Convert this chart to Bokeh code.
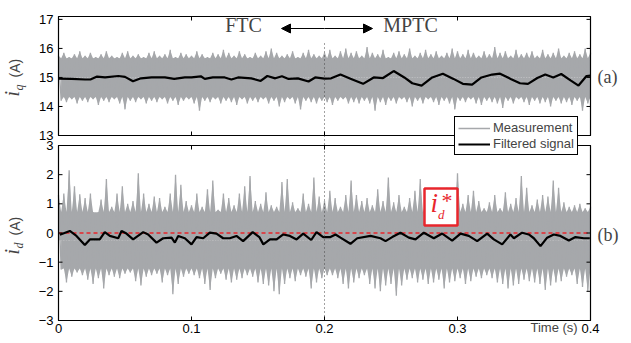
import numpy as np
from bokeh.plotting import figure
from bokeh.models import (Range1d, BoxAnnotation, Label, Arrow, NormalHead,
                          Legend, LegendItem)
from bokeh.core.properties import value
from bokeh.embed import file_html
from bokeh.resources import INLINE

# ---------------- data ----------------
T_MIN, T_MAX = 0.0, 0.4
T_SWITCH = 0.2
IQ_MIN, IQ_MAX = 13.0, 17.1
ID_MIN, ID_MAX = -3.0, 3.0
ID_REF = 0.0

x_ticks = [0.0, 0.1, 0.2, 0.3, 0.4]
x_tick_labels = ["0", "0.1", "0.2", "0.3", "0.4"]
iq_ticks = [13.0, 14.0, 15.0, 16.0, 17.0]
iq_tick_labels = ["13", "14", "15", "16", "17"]
id_ticks = [-3.0, -2.0, -1.0, 0.0, 1.0, 2.0, 3.0]
id_tick_labels = ["\u22123", "\u22122", "\u22121", "0", "1", "2", "3"]

SAMPLE_DT = 0.004  # spacing of the read-off peak samples

iq_meas_hi = [
    15.75, 15.85, 15.70, 15.80, 15.90, 15.75, 15.85, 15.70, 15.80, 15.90,
    15.75, 15.70, 15.85, 15.90, 15.75, 15.80, 15.70, 15.85, 15.90, 15.75,
    15.80, 15.95, 15.70, 15.85, 15.80, 15.75, 15.90, 15.80, 15.70, 15.85,
    15.80, 15.95, 15.85, 15.75, 15.90, 15.80, 15.70, 15.85, 15.75, 15.90,
    16.00, 15.85, 15.75, 15.80, 15.90, 15.70, 15.85, 15.95, 15.80, 15.75,
    15.85, 15.95, 15.75, 15.90, 16.00, 15.85, 15.90, 15.75, 16.05, 15.85,
    15.80, 15.95, 15.70, 15.85, 15.90, 15.80, 16.00, 15.75, 15.85, 15.95,
    15.80, 15.90, 15.75, 15.85, 16.00, 15.90, 15.80, 15.95, 15.85, 15.75,
    15.90, 15.80, 16.05, 15.85, 15.90, 15.75, 15.95, 15.80, 15.85, 15.90,
    15.75, 15.95, 15.80, 15.85, 16.00, 15.75, 15.85, 15.90, 15.80, 16.00,
    15.85]
iq_meas_lo = [
    14.20, 14.15, 14.25, 14.10, 14.20, 14.15, 14.25, 14.05, 14.20, 14.15,
    14.25, 14.10, 13.90, 14.20, 14.15, 14.25, 14.10, 14.20, 14.15, 14.25,
    14.10, 14.20, 14.05, 14.20, 14.25, 14.10, 13.85, 14.20, 14.15, 14.25,
    14.10, 14.20, 14.15, 14.05, 14.25, 14.10, 14.20, 14.15, 14.25, 14.10,
    14.20, 14.00, 14.15, 14.25, 14.10, 13.90, 14.20, 14.15, 14.10, 14.20,
    14.15, 14.05, 14.20, 14.25, 14.10, 14.15, 14.10, 14.20, 14.10, 13.85,
    14.15, 14.05, 14.20, 14.10, 14.25, 14.15, 14.00, 14.20, 14.10, 14.25,
    14.15, 14.05, 14.20, 14.10, 13.90, 14.20, 14.15, 14.25, 14.10, 14.05,
    14.20, 14.15, 14.10, 13.95, 14.20, 14.10, 14.25, 14.15, 14.05, 14.20,
    14.10, 14.15, 14.00, 14.20, 14.10, 14.15, 14.05, 14.20, 13.85, 14.10]
iq_core = [14.33, 15.66]   # dense band of the i_q measurement

id_meas_hi = [
    1.30, 1.35, 2.15, 1.60, 1.33, 1.20, 1.35, 0.70, 1.15, 1.85,
    0.90, 1.35, 1.60, 1.00, 1.10, 2.05, 1.35, 1.00, 1.25, 1.20,
    0.90, 1.35, 2.00, 1.65, 1.10, 0.95, 1.35, 0.90, 1.50, 1.80,
    0.80, 1.35, 1.20, 0.95, 1.35, 1.60, 1.95, 1.10, 1.00, 1.40,
    0.95, 0.90, 1.75, 1.85, 1.05, 0.85, 1.35, 1.00, 1.90, 1.25,
    1.10, 1.45, 1.20, 0.90, 1.30, 1.80, 1.30, 1.10, 1.20, 0.95,
    1.50, 1.10, 1.90, 1.05, 1.30, 0.90, 1.20, 1.45, 1.85, 1.05,
    0.95, 1.30, 1.20, 1.55, 1.10, 2.05, 1.00, 1.30, 1.45, 1.10,
    0.85, 1.05, 1.30, 0.85, 1.40, 1.00, 1.20, 1.95, 1.55, 0.95,
    1.15, 1.30, 1.25, 1.80, 1.55, 1.05, 0.90, 0.95, 1.00, 0.85,
    0.90]
id_meas_lo = [
    -1.25, -1.70, -1.50, -1.35, -1.45, -1.60, -1.75, -1.55, -1.90, -1.45,
    -1.50, -1.55, -1.40, -1.35, -1.65, -1.80, -1.50, -1.45, -1.40, -1.70,
    -1.45, -2.10, -1.75, -1.50, -1.40, -1.45, -1.55, -1.75, -1.95, -1.55,
    -1.40, -1.60, -1.70, -1.60, -1.55, -1.45, -1.50, -1.70, -1.75, -1.80,
    -2.00, -2.10, -1.75, -1.55, -1.65, -1.45, -1.50, -1.90, -1.70, -1.55,
    -1.45, -1.45, -1.55, -1.75, -1.90, -1.70, -1.55, -1.45, -1.75, -1.90,
    -2.00, -1.80, -1.75, -2.15, -1.80, -1.60, -1.55, -1.70, -1.60, -1.75,
    -1.70, -1.60, -1.90, -1.70, -1.65, -1.55, -1.75, -1.65, -1.50, -1.55,
    -1.45, -1.55, -1.70, -1.75, -1.90, -1.80, -1.75, -1.60, -1.65, -1.70,
    -1.75, -1.95, -1.80, -1.70, -1.65, -1.50, -1.45, -1.75, -1.85, -2.00]
id_core = [-1.22, 0.72]    # dense band of the i_d measurement

# filtered signals
iq_filt_t = [0.0, 0.01, 0.02, 0.024, 0.029, 0.035, 0.045, 0.05, 0.056, 0.062,
             0.07, 0.08, 0.087, 0.095, 0.1, 0.107, 0.11, 0.116, 0.125, 0.13,
             0.135, 0.145, 0.152, 0.157, 0.163, 0.168, 0.173, 0.18, 0.188, 0.193,
             0.2, 0.205, 0.212, 0.22, 0.229, 0.237, 0.244, 0.252, 0.26, 0.266,
             0.273, 0.281, 0.289, 0.297, 0.304, 0.311, 0.318, 0.326, 0.332, 0.34,
             0.347, 0.353, 0.36, 0.366, 0.372, 0.378, 0.385, 0.391, 0.397, 0.4]
iq_filt_v = [14.96, 14.95, 14.93, 14.93, 15.03, 15.0, 15.05, 15.02, 14.87, 14.97,
             15.0, 15.0, 14.95, 15.0, 15.0, 15.04, 14.95, 15.0, 15.0, 14.93,
             15.0, 14.97, 14.88, 15.05, 14.97, 15.04, 14.95, 14.97, 14.86, 15.0,
             14.96, 14.97, 15.1, 14.95, 14.78, 15.0, 14.98, 15.22, 15.0, 14.8,
             14.72, 15.0, 15.13, 14.95, 14.78, 14.75, 15.0, 15.1, 15.13, 14.95,
             14.8, 14.78, 14.98, 15.1, 15.0, 15.12, 14.9, 14.72, 15.05, 15.06]

id_filt_t = [0.001, 0.0085, 0.0135, 0.0198, 0.0236, 0.031, 0.0348, 0.0386, 0.0449, 0.0474,
             0.0511, 0.0561, 0.0637, 0.0674, 0.0737, 0.0787, 0.085, 0.0875, 0.09, 0.095,
             0.1, 0.1038, 0.1088, 0.1138, 0.1188, 0.1238, 0.1288, 0.1338, 0.1388, 0.146,
             0.151, 0.154, 0.159, 0.164, 0.169, 0.174, 0.179, 0.184, 0.19, 0.194,
             0.199, 0.2045, 0.2083, 0.212, 0.2195, 0.2246, 0.2346, 0.2421, 0.2459, 0.2509,
             0.2571, 0.2634, 0.2684, 0.2747, 0.2822, 0.2885, 0.296, 0.3023, 0.3085, 0.3148,
             0.3223, 0.3273, 0.3336, 0.3398, 0.3424, 0.3486, 0.3536, 0.3574, 0.3624, 0.3674,
             0.3724, 0.3774, 0.3837, 0.3887, 0.395, 0.3995]
id_filt_v = [-0.06, 0.07, -0.10, -0.41, -0.22, -0.22, 0.03, -0.10, -0.18, 0.07,
             -0.02, -0.22, 0.03, -0.05, -0.33, -0.18, -0.16, -0.33, -0.10, -0.18,
             -0.39, -0.14, -0.18, 0.01, -0.02, -0.18, -0.18, -0.10, -0.28, 0.03,
             -0.14, -0.39, -0.22, -0.22, -0.05, -0.10, -0.22, -0.02, -0.24, 0.03,
             -0.14, -0.14, -0.05, -0.16, -0.37, -0.18, -0.10, -0.18, -0.28, -0.14,
             0.01, -0.16, -0.22, 0.01, -0.18, -0.02, -0.26, -0.02, -0.10, -0.28,
             -0.02, -0.22, -0.39, -0.05, -0.18, 0.01, -0.05, -0.18, -0.45, -0.16,
             -0.05, -0.10, -0.26, -0.14, -0.18, -0.18]

# ---------------- styling / layout (pixels) ----------------
GRAY = "#a6a8ab"
RED = "#e8262c"
SANS = "Liberation Sans"
SERIF = "Liberation Serif"

W, H = 630, 342
PANEL_L, PANEL_R = 58, 590
TOP_T, TOP_B = 16, 135
BOT_T, BOT_B = 145, 320

ppt = (PANEL_R - PANEL_L) / (T_MAX - T_MIN)
ppd = (BOT_B - BOT_T) / (ID_MAX - ID_MIN)
ppq = (TOP_B - TOP_T) / (IQ_MAX - IQ_MIN)


def px_t(px):
    return T_MIN + (px - PANEL_L) / ppt


def py_d(py):
    return ID_MIN + (BOT_B - py) / ppd


def py_q(py):
    return IQ_MIN + (TOP_B - py) / ppq


p = figure(width=W, height=H,
           x_range=Range1d(px_t(0), px_t(W)), y_range=Range1d(py_d(H), py_d(0)),
           output_backend="svg", toolbar_location=None,
           min_border=0, x_axis_location=None, y_axis_location=None)
p.extra_y_ranges = {"iq": Range1d(py_q(H), py_q(0))}
p.grid.visible = False
p.outline_line_color = None
p.background_fill_color = "white"
p.border_fill_color = "white"


# ---- measurement bands (spiky outline through the read peaks) ----
def spikes(peaks, t0, valley):
    xs, ys = [], []
    for i, v in enumerate(peaks):
        t = t0 + i * SAMPLE_DT
        xs += [t, t + SAMPLE_DT / 2]
        ys += [v, valley]
    return np.array(xs), np.array(ys)


def zig(hi, lo):
    xs = np.empty(len(hi) + len(lo))
    ys = np.empty(len(hi) + len(lo))
    xs[0::2] = np.arange(len(hi)) * SAMPLE_DT
    xs[1::2] = np.arange(len(lo)) * SAMPLE_DT + SAMPLE_DT / 2
    ys[0::2] = hi
    ys[1::2] = lo
    return xs, ys


def band(hi, lo, core, **kw):
    mid = 0.5 * (core[0] + core[1])
    xh, yh = spikes(hi, T_MIN, core[1])
    xl, yl = spikes(lo, T_MIN + SAMPLE_DT / 2, core[0])
    keep_h = xh <= T_MAX
    keep_l = xl <= T_MAX
    p.varea(x=xh[keep_h], y1=mid, y2=yh[keep_h], fill_color=GRAY, **kw)
    p.varea(x=xl[keep_l], y1=yl[keep_l], y2=mid, fill_color=GRAY, **kw)
    xs, ys = zig(hi, lo)
    return p.line(xs, ys, line_color=GRAY, line_width=1.3, **kw)


band(iq_meas_hi, iq_meas_lo, iq_core, y_range_name="iq")
r_meas = band(id_meas_hi, id_meas_lo, id_core)

# reference i_d*
p.line([T_MIN, T_MAX], [ID_REF, ID_REF], line_color=RED, line_dash="4 3", line_width=1.3)

# filtered
p.line(iq_filt_t, iq_filt_v, line_color="black", line_width=2.2, y_range_name="iq")
r_filt = p.line(id_filt_t, id_filt_v, line_color="black", line_width=2.2)

# switch line: dotted through the panels, solid at the arrows
p.segment(x0=[T_SWITCH], y0=[ID_MIN], x1=[T_SWITCH], y1=[py_d(40)],
          line_color="#444444", line_dash="1 3", line_width=1)
p.segment(x0=[T_SWITCH], y0=[py_q(40)], x1=[T_SWITCH], y1=[py_q(11)],
          line_color="black", line_width=1.3)

# ---- panel frames ----
p.add_layout(BoxAnnotation(left=T_MIN, right=T_MAX, bottom=IQ_MIN, top=IQ_MAX,
                           y_range_name="iq", fill_alpha=0, line_color="black",
                           line_alpha=1, line_width=1.2))
p.add_layout(BoxAnnotation(left=T_MIN, right=T_MAX, bottom=ID_MIN, top=ID_MAX,
                           fill_alpha=0, line_color="black", line_alpha=1,
                           line_width=1.2))

# ---- inward ticks on all edges ----
TK = 4
tick_kw = dict(length=TK, length_units="screen", line_color="black", line_width=1)
p.ray(x=[T_MIN] * len(iq_ticks), y=iq_ticks, angle=0, y_range_name="iq", **tick_kw)
p.ray(x=[T_MAX] * len(iq_ticks), y=iq_ticks, angle=np.pi, y_range_name="iq", **tick_kw)
p.ray(x=[T_MIN] * len(id_ticks), y=id_ticks, angle=0, **tick_kw)
p.ray(x=[T_MAX] * len(id_ticks), y=id_ticks, angle=np.pi, **tick_kw)
p.ray(x=x_ticks, y=[IQ_MAX] * len(x_ticks), angle=-np.pi / 2, y_range_name="iq", **tick_kw)
p.ray(x=x_ticks, y=[IQ_MIN] * len(x_ticks), angle=np.pi / 2, y_range_name="iq", **tick_kw)
p.ray(x=x_ticks, y=[ID_MAX] * len(x_ticks), angle=-np.pi / 2, **tick_kw)
p.ray(x=x_ticks, y=[ID_MIN] * len(x_ticks), angle=np.pi / 2, **tick_kw)

# ---- tick labels ----
lab_kw = dict(text_font=value(SANS), text_font_size=value("13px"), text_color="black")
p.text(x=[T_MIN] * len(iq_ticks), y=iq_ticks, text=iq_tick_labels, x_offset=-5,
       text_align="right", text_baseline="middle", y_range_name="iq", **lab_kw)
p.text(x=[T_MIN] * len(id_ticks), y=id_ticks, text=id_tick_labels, x_offset=-5,
       text_align="right", text_baseline="middle", **lab_kw)
p.text(x=x_ticks, y=[ID_MIN] * len(x_ticks), text=x_tick_labels, y_offset=3,
       text_align="center", text_baseline="top", **lab_kw)

# ---- arrows FTC / MPTC ----
ARR_Y = py_q(28)
p.add_layout(Arrow(end=NormalHead(size=9, fill_color="black", line_color="black"),
                   x_start=T_SWITCH, y_start=ARR_Y, x_end=px_t(281), y_end=ARR_Y,
                   y_range_name="iq", line_width=1.2))
p.add_layout(Arrow(end=NormalHead(size=9, fill_color="black", line_color="black"),
                   x_start=T_SWITCH, y_start=ARR_Y, x_end=px_t(372), y_end=ARR_Y,
                   y_range_name="iq", line_width=1.2))
p.add_layout(Label(x=px_t(243), y=py_q(35), y_range_name="iq", text="FTC",
                   text_font=SERIF, text_font_size="20px", text_align="center"))
p.add_layout(Label(x=px_t(410), y=py_q(35), y_range_name="iq", text="MPTC",
                   text_font=SERIF, text_font_size="20px", text_align="center"))

# ---- i_d* box ----
p.add_layout(BoxAnnotation(left=px_t(424), right=px_t(457), bottom=py_d(225), top=py_d(188),
                           fill_color="white", fill_alpha=1, line_color=RED,
                           line_alpha=1, line_width=2.5))
p.add_layout(Label(x=px_t(430), y=py_d(217), text="i", text_font=SERIF,
                   text_font_style="italic", text_font_size="27px", text_color=RED))
p.add_layout(Label(x=px_t(437.5), y=py_d(221), text="d", text_font=SERIF,
                   text_font_style="italic", text_font_size="13px", text_color=RED))
p.add_layout(Label(x=px_t(441), y=py_d(212), text="*", text_font=SERIF,
                   text_font_size="22px", text_color=RED))

# ---- panel tags ----
p.add_layout(Label(x=px_t(597), y=py_q(86), y_range_name="iq", text="(a)",
                   text_font=SERIF, text_font_size="18px"))
p.add_layout(Label(x=px_t(597), y=py_d(244), text="(b)", text_font=SERIF,
                   text_font_size="18px"))

# ---- y labels (rotated) ----
ANG = np.pi / 2
p.add_layout(Label(x=px_t(22), y=py_q(96), y_range_name="iq", text="i", angle=ANG,
                   text_font=SERIF, text_font_style="italic", text_font_size="20px"))
p.add_layout(Label(x=px_t(25), y=py_q(90), y_range_name="iq", text="q", angle=ANG,
                   text_font=SERIF, text_font_style="italic", text_font_size="12px"))
p.add_layout(Label(x=px_t(22), y=py_q(77), y_range_name="iq", text="(A)", angle=ANG,
                   text_font=SANS, text_font_size="14px"))
p.add_layout(Label(x=px_t(22), y=py_d(254), text="i", angle=ANG,
                   text_font=SERIF, text_font_style="italic", text_font_size="20px"))
p.add_layout(Label(x=px_t(25), y=py_d(248), text="d", angle=ANG,
                   text_font=SERIF, text_font_style="italic", text_font_size="12px"))
p.add_layout(Label(x=px_t(22), y=py_d(235), text="(A)", angle=ANG,
                   text_font=SANS, text_font_size="14px"))

# ---- x label ----
p.add_layout(Label(x=px_t(530), y=py_d(334), text="Time (s)", text_font=SANS,
                   text_font_size="13px"))

legend = Legend(items=[LegendItem(label="Measurement", renderers=[r_meas]),
                       LegendItem(label="Filtered signal", renderers=[r_filt])],
                location=(454, H - 155), border_line_color="black", border_line_width=1,
                border_line_alpha=1,
                background_fill_color="white", background_fill_alpha=1,
                padding=3, spacing=1, margin=0, glyph_width=32, glyph_height=14,
                label_height=14, label_standoff=3,
                label_text_font=SANS, label_text_font_size="13px")
p.add_layout(legend)

open("out.html", "w").write(file_html(p, INLINE))
